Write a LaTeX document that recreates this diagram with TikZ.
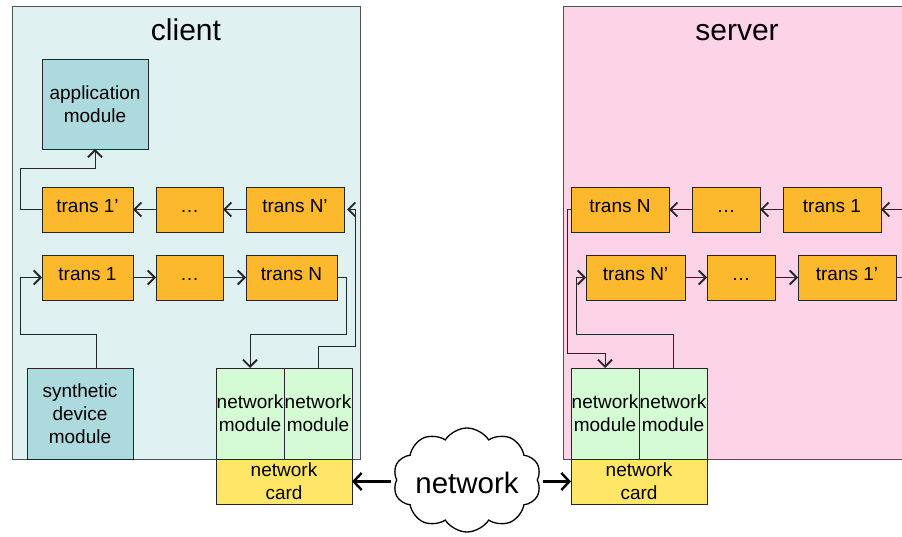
\documentclass[tikz,border=0pt]{standalone}
\usepackage{fontspec}
\setmainfont{Liberation Sans}
\usetikzlibrary{arrows.meta,shapes.symbols,calc}
\definecolor{clientbg}{HTML}{DFF1F1}
\definecolor{serverbg}{HTML}{FDD3E8}
\definecolor{modbg}{HTML}{ADDADE}
\definecolor{transbg}{HTML}{FDB92E}
\definecolor{netmod}{HTML}{D4FBD4}
\definecolor{cardbg}{HTML}{FFE666}
\definecolor{edge}{HTML}{262626}
\begin{document}
\begin{tikzpicture}[x=1pt,y=-1pt,
  every node/.style={inner sep=0pt,outer sep=0pt,font=\fontsize{19}{23}\selectfont,align=center},
  bigbox/.style={draw=edge!80,line width=0.8pt,rectangle},
  blk/.style={draw=edge,line width=0.8pt,rectangle,minimum height=45pt},
  transbox/.style={blk,fill=transbg,text height=13pt,text depth=6pt},
  modbox/.style={blk,fill=modbg},
  netbox/.style={blk,fill=netmod,minimum width=68pt,minimum height=91pt},
  cardbox/.style={blk,fill=cardbg,minimum width=136pt,minimum height=45pt},
  arr/.style={draw=edge,line width=0.8pt,-{Straight Barb[line width=1.8pt,length=7pt,width=14pt]}},
  plain/.style={draw=edge,line width=0.8pt},
  bigarr/.style={draw=black,line width=2.2pt,-{Straight Barb[line width=2.4pt,length=8pt,width=17pt]}},
  title/.style={font=\fontsize{30}{36}\selectfont,anchor=base}
]
\useasboundingbox (0,0) rectangle (902,537);
\clip (0,0) rectangle (902,537);
% containers
\node[bigbox,fill=clientbg,minimum width=348pt,minimum height=453pt] (client) at (186,232.5) {};
\node[bigbox,fill=serverbg,minimum width=352pt,minimum height=453pt] (server) at (739,232.5) {};
\node[title] (clientt) at (186,41) {client};
\node[title] (servert) at (737,41) {server};
% client
\node[modbox,minimum width=106pt,minimum height=90pt] (app) at (95,104) {application\\module};
\node[transbox,minimum width=91pt] (c1p) at (87.5,209.5) {trans 1’};
\node[transbox,minimum width=67pt] (cdp) at (189.5,209.5) {…};
\node[transbox,minimum width=98pt] (cNp) at (295,209.5) {trans N’};
\node[transbox,minimum width=91pt] (c1) at (87.5,277.5) {trans 1};
\node[transbox,minimum width=67pt] (cd) at (189.5,277.5) {…};
\node[transbox,minimum width=91pt] (cN) at (291.5,277.5) {trans N};
\node[modbox,minimum width=106pt,minimum height=91pt] (syn) at (80,413.5) {synthetic\\device\\module};
\node[netbox] (cnm1) at (250,413.5) {network\\module};
\node[netbox] (cnm2) at (318,413.5) {network\\module};
\node[cardbox] (ccard) at (284,481.5) {network\\card};
% server
\node[transbox,minimum width=98pt] (sN) at (620,209.5) {trans N};
\node[transbox,minimum width=68pt] (sd) at (726,209.5) {…};
\node[transbox,minimum width=98pt] (s1) at (832,209.5) {trans 1};
\node[transbox,minimum width=99pt] (sNp) at (635.5,277.5) {trans N’};
\node[transbox,minimum width=68pt] (sdp) at (741,277.5) {…};
\node[transbox,minimum width=98pt] (s1p) at (847,277.5) {trans 1’};
\node[netbox] (snm1) at (605,413.5) {network\\module};
\node[netbox] (snm2) at (673,413.5) {network\\module};
\node[cardbox] (scard) at (639,481.5) {network\\card};
% cloud
\node[cloud,draw=black,line width=1.3pt,fill=white,cloud puffs=10,cloud puff arc=115,aspect=1.4,
  minimum width=148pt,minimum height=104pt] (cloud) at (467,480) {};
\node[font=\fontsize{29.5}{34}\selectfont,anchor=base] (cloudtext) at (467,493) {network};
% helper coordinates
\coordinate (k1) at (20,168);
\coordinate (k2) at (20,334);
\coordinate (k3) at (346,334);
\coordinate (k4) at (355,346);
\coordinate (k5) at (567,353);
\coordinate (k6) at (576,334);
\coordinate (e1) at (910,209.5);
\coordinate (e2) at (910,277.5);
% client connectors
\draw[arr] (c1p.west) -| (k1) -| (app.south);
\draw[arr] (cdp) -- (c1p);
\draw[arr] (cNp) -- (cdp);
\draw[arr] ([xshift=16pt]syn.north) |- (k2) |- (c1.west);
\draw[arr] (c1) -- (cd);
\draw[arr] (cd) -- (cN);
\draw[arr] (cN.east) -| (k3) -| (cnm1.north);
\draw[arr] (cnm2.north) |- (k4) |- ([xshift=3pt]cNp.east);
% server connectors
\draw[arr] (e1) -- (s1.east);
\draw[arr] (s1) -- (sd);
\draw[arr] (sd) -- (sN);
\draw[arr] (sN.west) -| (k5) -| (snm1.north);
\draw[arr] (snm2.north) |- (k6) |- (sNp.west);
\draw[arr] (sNp) -- (sdp);
\draw[arr] (sdp) -- (s1p);
\draw[plain] (s1p.east) -- (e2);
% network arrows
\draw[bigarr,shorten <=6pt] (cloud.west |- ccard.east) -- (ccard.east);
\draw[bigarr,shorten <=6pt] (cloud.east |- scard.west) -- (scard.west);
\end{tikzpicture}
\end{document}
